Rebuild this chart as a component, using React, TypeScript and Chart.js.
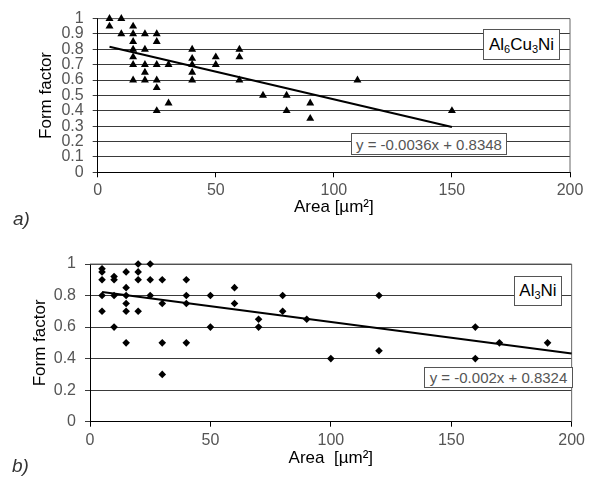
import React, { useEffect, useRef } from "react";
import { Chart, registerables } from "chart.js";
Chart.register(...registerables);

// ---- Panel a) Al6Cu3Ni ----
const areaA = [5, 5, 10, 10, 15, 15, 15, 15, 15, 15, 15, 20, 20, 20, 20, 20, 25, 25, 25, 25, 25, 25, 30, 30, 40, 40, 40, 40, 40, 50, 50, 60, 60, 60, 70, 80, 80, 90, 90, 110, 150];
const formA = [1.0, 0.95, 1.0, 0.9, 0.95, 0.9, 0.85, 0.8, 0.75, 0.7, 0.6, 0.9, 0.8, 0.7, 0.65, 0.6, 0.9, 0.85, 0.7, 0.6, 0.55, 0.4, 0.7, 0.45, 0.8, 0.74, 0.7, 0.65, 0.6, 0.75, 0.7, 0.8, 0.75, 0.6, 0.5, 0.5, 0.4, 0.45, 0.35, 0.6, 0.4];
const trendAX = [5, 150];
const trendAY = [0.8168, 0.2948];
const yTicksA = [0, 0.1, 0.2, 0.3, 0.4, 0.5, 0.6, 0.7, 0.8, 0.9, 1];

// ---- Panel b) Al3Ni ----
const areaB = [5, 5, 5, 5, 5, 10, 10, 10, 10, 15, 15, 15, 15, 15, 15, 20, 20, 20, 20, 25, 25, 25, 30, 30, 30, 30, 40, 40, 40, 40, 50, 50, 60, 60, 70, 70, 80, 80, 90, 100, 120, 120, 160, 160, 170, 190];
const formB = [0.97, 0.95, 0.9, 0.8, 0.7, 0.92, 0.9, 0.8, 0.6, 0.95, 0.85, 0.8, 0.75, 0.7, 0.5, 1.0, 0.95, 0.9, 0.7, 1.0, 0.9, 0.8, 0.9, 0.75, 0.5, 0.3, 0.9, 0.8, 0.75, 0.5, 0.8, 0.6, 0.85, 0.75, 0.65, 0.6, 0.8, 0.7, 0.65, 0.4, 0.8, 0.45, 0.6, 0.4, 0.5, 0.5];
const trendBX = [5, 200];
const trendBY = [0.8224, 0.4324];
const yTicksB = [0, 0.2, 0.4, 0.6, 0.8, 1];

const xTicks = [0, 50, 100, 150, 200];

const FONT = "'Liberation Sans', Arial, sans-serif";
const TICK_FONT = "'Liberation Sans Narrow', 'Arial Narrow', 'Liberation Sans', Arial, sans-serif";

const borderPlugin = {
  id: "plotBorder",
  beforeDatasetsDraw(chart: any) {
    const { ctx, chartArea } = chart;
    ctx.save();
    ctx.strokeStyle = "#666";
    ctx.lineWidth = 1;
    ctx.beginPath();
    ctx.moveTo(chartArea.left, chartArea.top);
    ctx.lineTo(chartArea.right, chartArea.top);
    ctx.lineTo(chartArea.right, chartArea.bottom);
    ctx.stroke();
    ctx.restore();
  },
};

function buildConfig(p: any) {
  const pts = p.xs.map((x: number, i: number) => ({ x, y: p.ys[i] }));
  const trend = p.tx.map((x: number, i: number) => ({ x, y: p.ty[i] }));
  return {
    type: "scatter",
    data: {
      datasets: [
        {
          data: pts,
          pointStyle: p.pointStyle,
          pointRadius: p.radius,
          pointBackgroundColor: "#000",
          pointBorderColor: "#000",
          pointBorderWidth: 0,
          clip: false,
          order: 2,
        },
        {
          data: trend,
          showLine: true,
          borderColor: "#000",
          borderWidth: 2,
          pointRadius: 0,
          clip: false,
          order: 1,
        },
      ],
    },
    options: {
      responsive: false,
      animation: false,
      devicePixelRatio: 1,
      plugins: { legend: { display: false }, tooltip: { enabled: false } },
      layout: { padding: { left: 0, top: p.padTop, right: p.padRight, bottom: 0 } },
      scales: {
        x: {
          type: "linear",
          min: 0,
          max: 200,
          afterBuildTicks: (s: any) => {
            s.ticks = xTicks.map((v) => ({ value: v }));
          },
          afterFit: (s: any) => {
            s.height = p.xHeight;
          },
          grid: { drawOnChartArea: false, drawTicks: true, tickLength: 5, color: "#000" },
          border: { color: "#000", width: 1 },
          ticks: { color: "#555", font: { family: TICK_FONT, size: 16 }, padding: 4, maxRotation: 0, autoSkip: false },
          title: {
            display: true,
            text: p.xTitle,
            color: "#000",
            font: { family: FONT, size: 17 },
            padding: { top: 0, bottom: p.xTitlePad },
          },
        },
        y: {
          type: "linear",
          min: 0,
          max: 1,
          afterBuildTicks: (s: any) => {
            s.ticks = p.yTicks.map((v: number) => ({ value: v }));
          },
          afterFit: (s: any) => {
            s.width = p.yWidth;
          },
          grid: { drawTicks: true, tickLength: 5, color: "#3a3a3a", lineWidth: 1 },
          border: { color: "#000", width: 1 },
          ticks: {
            color: "#555",
            font: { family: TICK_FONT, size: 16 },
            padding: p.yTickPad,
            autoSkip: false,
            callback: (v: any) => String(Math.round(v * 10) / 10),
          },
          title: {
            display: true,
            text: "Form factor",
            color: "#000",
            font: { family: FONT, size: 17 },
            padding: { top: p.yTitlePad, bottom: 0 },
          },
        },
      },
    },
    plugins: [borderPlugin],
  };
}

function Panel(props: any) {
  const ref = useRef<HTMLCanvasElement | null>(null);
  useEffect(() => {
    const c = new Chart(ref.current as HTMLCanvasElement, buildConfig(props.cfg) as any);
    return () => c.destroy();
  }, []);
  return (
    <canvas
      ref={ref}
      width={589}
      height={props.h}
      style={{ position: "absolute", left: 0, top: props.top, width: 589, height: props.h }}
    />
  );
}

const boxStyle: any = {
  position: "absolute",
  background: "#fff",
  border: "1px solid #555",
  boxSizing: "border-box",
  fontFamily: FONT,
  display: "flex",
  alignItems: "center",
  justifyContent: "center",
  whiteSpace: "nowrap",
};

const subStyle: any = { fontSize: 11, verticalAlign: "-3px", lineHeight: 0 };

export default function App() {
  useEffect(() => {
    document.body.style.margin = "0";
  }, []);
  const cfgA = {
    xs: areaA,
    ys: formA,
    tx: trendAX,
    ty: trendAY,
    yTicks: yTicksA,
    pointStyle: "triangle",
    radius: 4.6,
    padTop: 15.7,
    padRight: 19,
    xHeight: 67.7,
    yWidth: 97.7,
    yTickPad: 9,
    xTitlePad: 22,
    yTitlePad: 36.5,
    xTitle: "Area [\u00b5m\u00b2]",
  };
  const cfgB = {
    xs: areaB,
    ys: formB,
    tx: trendBX,
    ty: trendBY,
    yTicks: yTicksB,
    pointStyle: "rectRot",
    radius: 3.8,
    padTop: 24,
    padRight: 17.3,
    xHeight: 56.3,
    yWidth: 90,
    yTickPad: 9,
    xTitlePad: 9.5,
    yTitlePad: 29.8,
    xTitle: "Area  [\u00b5m\u00b2]",
  };
  return (
    <div style={{ position: "relative", width: 589, height: 478, background: "#fff", overflow: "hidden" }}>
      <Panel cfg={cfgA} top={0} h={240} />
      <Panel cfg={cfgB} top={240} h={238} />
      <div style={{ ...boxStyle, left: 483, top: 29, width: 77, height: 31, fontSize: 17, color: "#000" }}>
        <span>
          Al<span style={subStyle}>6</span>Cu<span style={subStyle}>3</span>Ni
        </span>
      </div>
      <div style={{ ...boxStyle, left: 351, top: 133, width: 156, height: 22, fontSize: 15, color: "#555" }}>
        y = -0.0036x + 0.8348
      </div>
      <div style={{ ...boxStyle, left: 514, top: 276, width: 48, height: 30, fontSize: 17, color: "#000" }}>
        <span>
          Al<span style={subStyle}>3</span>Ni
        </span>
      </div>
      <div style={{ ...boxStyle, left: 424, top: 367, width: 149, height: 21, fontSize: 15, color: "#555" }}>
        y = -0.002x + 0.8324
      </div>
      <div style={{ position: "absolute", left: 13, top: 208, fontFamily: FONT, fontStyle: "italic", fontSize: 19, color: "#333" }}>
        a)
      </div>
      <div style={{ position: "absolute", left: 12, top: 455, fontFamily: FONT, fontStyle: "italic", fontSize: 19, color: "#333" }}>
        b)
      </div>
    </div>
  );
}
